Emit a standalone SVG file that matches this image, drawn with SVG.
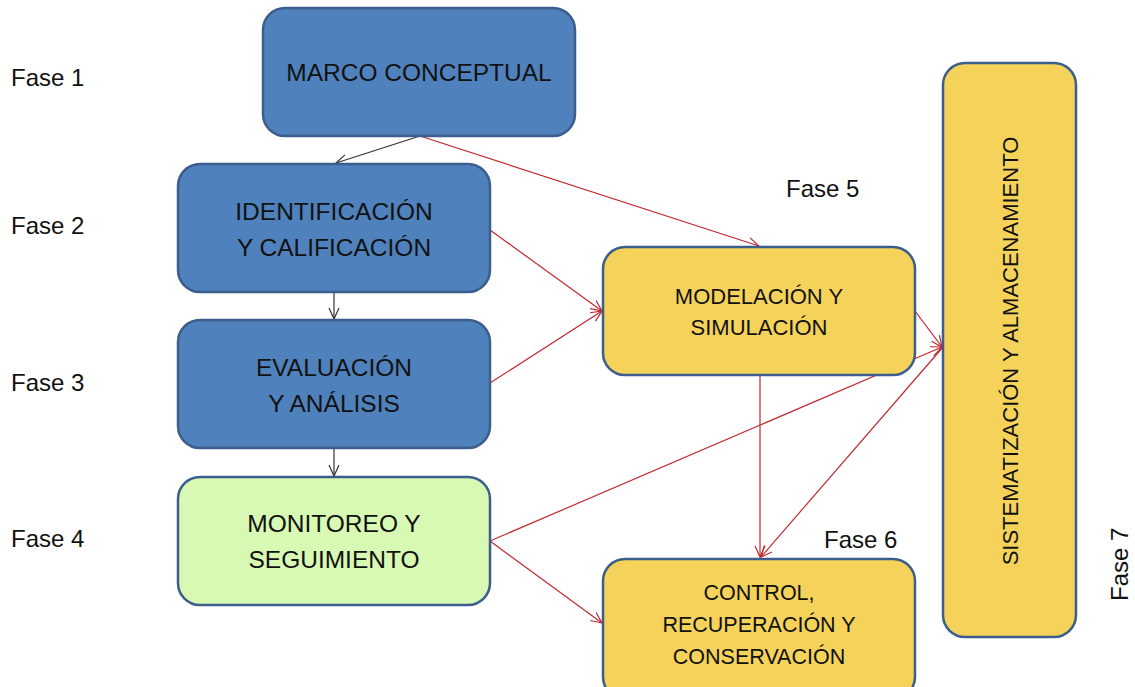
<svg xmlns="http://www.w3.org/2000/svg" width="1135" height="687" viewBox="0 0 1135 687">
<defs>
<style>
.box{stroke:#3b5e8c;stroke-width:2.5}
.blue{fill:#4f81bd}
.yel{fill:#f5d35a}
.grn{fill:#d8f9b3}
.t{font-family:"Liberation Sans",Arial,sans-serif;fill:#111;text-anchor:middle}
.f{font-family:"Liberation Sans",Arial,sans-serif;fill:#111;font-size:24px}
.r{stroke:#c0282f;stroke-width:1.2;fill:none}
.k{stroke:#333;stroke-width:1.2;fill:none}
</style>
<marker id="ar" markerWidth="14" markerHeight="12" refX="12" refY="6" orient="auto" markerUnits="userSpaceOnUse"><path d="M1,1 L12,6 L1,11" fill="none" stroke="#c0282f" stroke-width="1.2"/></marker>
<marker id="ak" markerWidth="14" markerHeight="12" refX="12" refY="6" orient="auto" markerUnits="userSpaceOnUse"><path d="M1,1 L12,6 L1,11" fill="none" stroke="#333" stroke-width="1.2"/></marker>
</defs>
<rect width="1135" height="687" fill="#fff"/>
<g id="connectors">
<line class="r" x1="490" y1="541" x2="942" y2="347" marker-end="url(#ar)"/>
<line class="k" x1="420" y1="136" x2="336" y2="163" marker-end="url(#ak)"/>
<line class="r" x1="420" y1="136" x2="759" y2="246" marker-end="url(#ar)"/>
<line class="r" x1="490" y1="230" x2="602" y2="311" marker-end="url(#ar)"/>
<line class="r" x1="490" y1="383" x2="602" y2="311" marker-end="url(#ar)"/>
<line class="k" x1="334" y1="292" x2="334" y2="319" marker-end="url(#ak)"/>
<line class="k" x1="334" y1="448" x2="334" y2="476" marker-end="url(#ak)"/>
<line class="r" x1="915" y1="311" x2="942" y2="347" marker-end="url(#ar)"/>
<line class="r" x1="760" y1="375" x2="760" y2="557" marker-end="url(#ar)"/>
<line class="r" x1="943" y1="347" x2="761" y2="557" marker-end="url(#ar)"/>
<line class="r" x1="490" y1="541" x2="602" y2="623" marker-end="url(#ar)"/>
</g>
<g id="marco">
<rect class="box blue" x="263" y="8" width="312" height="128" rx="22"/>
<text class="t" x="419" y="81" font-size="24.5">MARCO CONCEPTUAL</text>
</g>
<g id="identificacion">
<rect class="box blue" x="178" y="164" width="312" height="128" rx="22"/>
<text class="t" x="334" y="220" font-size="24.5">IDENTIFICACIÓN</text>
<text class="t" x="334" y="256" font-size="24.5">Y CALIFICACIÓN</text>
</g>
<g id="evaluacion">
<rect class="box blue" x="178" y="320" width="312" height="128" rx="22"/>
<text class="t" x="334" y="376" font-size="24.5">EVALUACIÓN</text>
<text class="t" x="334" y="412" font-size="24.5">Y ANÁLISIS</text>
</g>
<g id="monitoreo">
<rect class="box grn" x="178" y="477" width="312" height="128" rx="22"/>
<text class="t" x="334" y="532" font-size="24.5">MONITOREO Y</text>
<text class="t" x="334" y="568" font-size="24.5">SEGUIMIENTO</text>
</g>
<g id="modelacion">
<rect class="box yel" x="603" y="247" width="312" height="128" rx="22"/>
<text class="t" x="759" y="304" font-size="22">MODELACIÓN Y</text>
<text class="t" x="759" y="335" font-size="22">SIMULACIÓN</text>
</g>
<g id="control">
<rect class="box yel" x="603" y="559" width="312" height="140" rx="22"/>
<text class="t" x="759" y="600" font-size="21.5">CONTROL,</text>
<text class="t" x="759" y="632" font-size="21.5">RECUPERACIÓN Y</text>
<text class="t" x="759" y="664" font-size="21.5">CONSERVACIÓN</text>
</g>
<g id="sistematizacion">
<rect class="box yel" x="943" y="63" width="133" height="574" rx="22"/>
<text class="t" transform="translate(1018,351) rotate(-90)" x="0" y="0" font-size="22">SISTEMATIZACIÓN Y ALMACENAMIENTO</text>
</g>
<g id="fases">
<text class="f" x="11" y="86">Fase 1</text>
<text class="f" x="11" y="234">Fase 2</text>
<text class="f" x="11" y="391">Fase 3</text>
<text class="f" x="11" y="547">Fase 4</text>
<text class="f" x="786" y="197">Fase 5</text>
<text class="f" x="824" y="548">Fase 6</text>
<text class="f" transform="translate(1128,601) rotate(-90)">Fase 7</text>
</g>
</svg>
